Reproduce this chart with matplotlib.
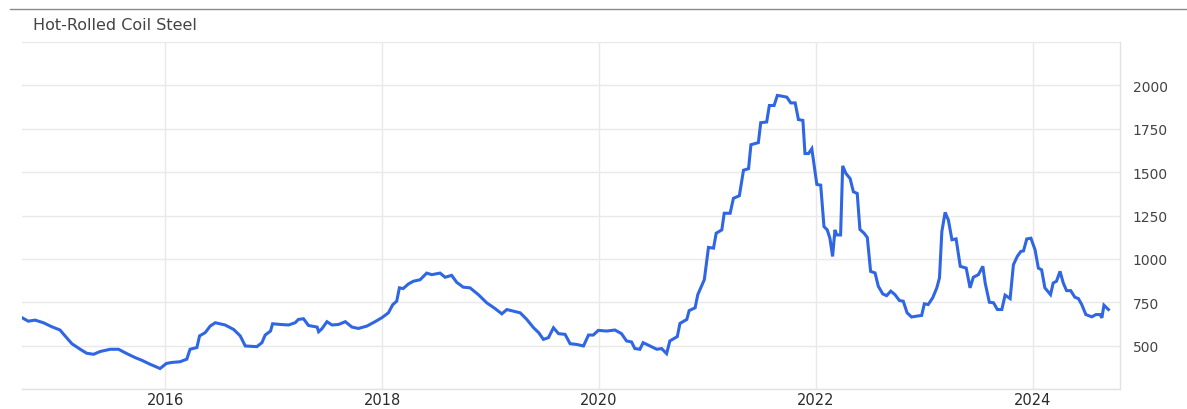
import matplotlib
matplotlib.use("Agg")
import matplotlib.pyplot as plt
import matplotlib.dates as mdates
from matplotlib.lines import Line2D
import pandas as pd

# weekly-ish readings of the price line (USD/t)
dates = [
    "2014-09-07", "2014-09-27", "2014-10-20", "2014-11-17", "2014-12-15",
    "2015-01-12", "2015-01-29", "2015-02-21", "2015-03-21", "2015-04-12",
    "2015-05-05", "2015-05-27", "2015-06-30", "2015-07-28", "2015-08-25",
    "2015-09-22", "2015-10-14", "2015-11-11", "2015-12-15", "2016-01-05",
    "2016-01-23", "2016-02-20", "2016-03-14", "2016-03-25", "2016-04-17",
    "2016-04-26", "2016-05-15", "2016-06-01", "2016-06-18", "2016-07-21",
    "2016-08-19", "2016-09-10", "2016-09-27", "2016-11-05", "2016-11-22",
    "2016-12-03", "2016-12-21", "2016-12-28", "2017-01-23", "2017-02-20",
    "2017-03-14", "2017-03-25", "2017-04-11", "2017-04-28", "2017-05-27",
    "2017-06-01", "2017-06-12", "2017-06-29", "2017-07-16", "2017-08-07",
    "2017-08-30", "2017-09-21", "2017-10-13", "2017-11-11", "2017-12-08",
    "2017-12-31", "2018-01-22", "2018-02-06", "2018-02-19", "2018-02-28",
    "2018-03-13", "2018-03-30", "2018-04-16", "2018-05-09", "2018-05-31",
    "2018-06-17", "2018-07-15", "2018-08-01", "2018-08-23", "2018-09-09",
    "2018-10-01", "2018-10-24", "2018-11-21", "2018-12-19", "2019-01-16",
    "2019-02-08", "2019-02-25", "2019-03-19", "2019-04-11", "2019-05-03",
    "2019-05-26", "2019-06-12", "2019-06-28", "2019-07-15", "2019-08-01",
    "2019-08-18", "2019-09-09", "2019-09-26", "2019-10-18", "2019-11-10",
    "2019-11-27", "2019-12-13", "2019-12-30", "2020-01-27", "2020-02-24",
    "2020-03-17", "2020-04-03", "2020-04-20", "2020-05-01", "2020-05-18",
    "2020-05-29", "2020-06-21", "2020-07-14", "2020-07-30", "2020-08-16",
    "2020-08-27", "2020-09-21", "2020-09-30", "2020-10-23", "2020-10-31",
    "2020-11-20", "2020-11-29", "2020-12-21", "2021-01-04", "2021-01-21",
    "2021-01-30", "2021-02-18", "2021-02-26", "2021-03-18", "2021-03-29",
    "2021-04-18", "2021-05-02", "2021-05-19", "2021-05-27", "2021-06-21",
    "2021-06-29", "2021-07-19", "2021-07-28", "2021-08-13", "2021-08-24",
    "2021-09-08", "2021-09-25", "2021-10-08", "2021-10-23", "2021-11-03",
    "2021-11-18", "2021-11-25", "2021-12-07", "2021-12-18", "2022-01-04",
    "2022-01-17", "2022-01-28", "2022-02-08", "2022-02-17", "2022-02-26",
    "2022-03-06", "2022-03-12", "2022-03-25", "2022-04-01", "2022-04-12",
    "2022-04-26", "2022-05-07", "2022-05-20", "2022-05-29", "2022-06-12",
    "2022-06-23", "2022-07-04", "2022-07-19", "2022-07-30", "2022-08-14",
    "2022-08-27", "2022-09-10", "2022-09-24", "2022-10-09", "2022-10-22",
    "2022-11-04", "2022-11-19", "2022-12-06", "2022-12-23", "2023-01-01",
    "2023-01-14", "2023-01-29", "2023-02-12", "2023-02-21", "2023-03-01",
    "2023-03-12", "2023-03-23", "2023-04-04", "2023-04-18", "2023-05-02",
    "2023-05-22", "2023-06-04", "2023-06-15", "2023-07-02", "2023-07-17",
    "2023-07-25", "2023-08-08", "2023-08-22", "2023-09-04", "2023-09-19",
    "2023-09-30", "2023-10-17", "2023-10-28", "2023-11-10", "2023-11-22",
    "2023-12-01", "2023-12-12", "2023-12-26", "2024-01-09", "2024-01-20",
    "2024-01-31", "2024-02-11", "2024-03-01", "2024-03-10", "2024-03-21",
    "2024-04-02", "2024-04-13", "2024-04-24", "2024-05-08", "2024-05-22",
    "2024-06-03", "2024-06-14", "2024-06-28", "2024-07-18", "2024-08-01",
    "2024-08-15", "2024-08-21", "2024-08-28", "2024-09-12",
]
prices = [
    660, 641, 647, 632, 609,
    590, 556, 511, 479, 456,
    450, 466, 479, 479, 454,
    431, 416, 393, 368, 397,
    403, 407, 422, 479, 489,
    556, 575, 613, 632, 619,
    593, 556, 498, 494, 517,
    561, 584, 626, 622, 619,
    632, 651, 655, 616, 607,
    580, 597, 638, 619, 622,
    638, 607, 599, 613, 638,
    661, 689, 737, 756, 833,
    829, 855, 871, 880, 918,
    909, 918, 894, 905, 865,
    837, 833, 794, 747, 714,
    683, 708, 699, 689, 651,
    603, 575, 536, 546, 603,
    569, 565, 511, 507, 498,
    561, 561, 588, 584, 590,
    569, 527, 521, 483, 479,
    517, 498, 479, 483, 454,
    527, 552, 628, 651, 702,
    718, 794, 880, 1066, 1062,
    1148, 1167, 1263, 1263, 1349,
    1364, 1511, 1520, 1658, 1670,
    1785, 1789, 1884, 1884, 1942,
    1938, 1932, 1899, 1899, 1803,
    1798, 1607, 1607, 1635, 1429,
    1425, 1186, 1167, 1119, 1014,
    1167, 1138, 1138, 1536, 1492,
    1463, 1387, 1377, 1170, 1148,
    1123, 928, 919, 842, 798,
    788, 814, 794, 760, 756,
    689, 665, 670, 674, 741,
    737, 775, 833, 890, 1158,
    1268, 1224, 1110, 1115, 957,
    947, 833, 894, 909, 957,
    860, 750, 747, 708, 708,
    791, 771, 966, 1014, 1043,
    1046, 1115, 1119, 1052, 947,
    937, 833, 794, 861, 871,
    928, 861, 817, 817, 779,
    771, 737, 679, 666, 679,
    679, 660, 733, 708,
]

title = "Hot-Rolled Coil Steel"
y_ticks = [250, 500, 750, 1000, 1250, 1500, 1750, 2000, 2250]
y_labels = ["", "500", "750", "1000", "1250", "1500", "1750", "2000", ""]

x = pd.to_datetime(dates)

fig = plt.figure(figsize=(11.87, 4.10), dpi=100)
ax = fig.add_axes([22 / 1187, 20 / 410, 1098 / 1187, 347 / 410])

ax.plot(x, prices, color="#2f66e3", linewidth=2.2, solid_joinstyle="miter")

ax.set_xlim(pd.Timestamp("2014-09-06"), pd.Timestamp("2024-10-21"))
ax.set_ylim(250, 2250)

ax.xaxis.set_major_locator(mdates.YearLocator(2))
ax.xaxis.set_major_formatter(mdates.DateFormatter("%Y"))
ax.set_yticks(y_ticks)
ax.set_yticklabels(y_labels)
ax.yaxis.tick_right()

ax.grid(True, color="#e9e9e9", linewidth=1)
ax.set_axisbelow(True)
for side in ["top", "left"]:
    ax.spines[side].set_visible(False)
for side in ["bottom", "right"]:
    ax.spines[side].set_color("#e2e2e2")
    ax.spines[side].set_linewidth(1)

ax.tick_params(axis="x", length=0, pad=2.5, labelsize=10.5, labelcolor="#2b2b2b")
ax.tick_params(axis="y", length=0, pad=9, labelsize=10, labelcolor="#444444")

fig.text(33 / 1187, 1 - 25 / 410, title, fontsize=11.5, color="#444444",
         va="center", ha="left")
fig.add_artist(Line2D([10 / 1187, 1], [1 - 10 / 410, 1 - 10 / 410],
                      color="#8a8a8a", linewidth=1))

fig.savefig("out.png", dpi=100)
